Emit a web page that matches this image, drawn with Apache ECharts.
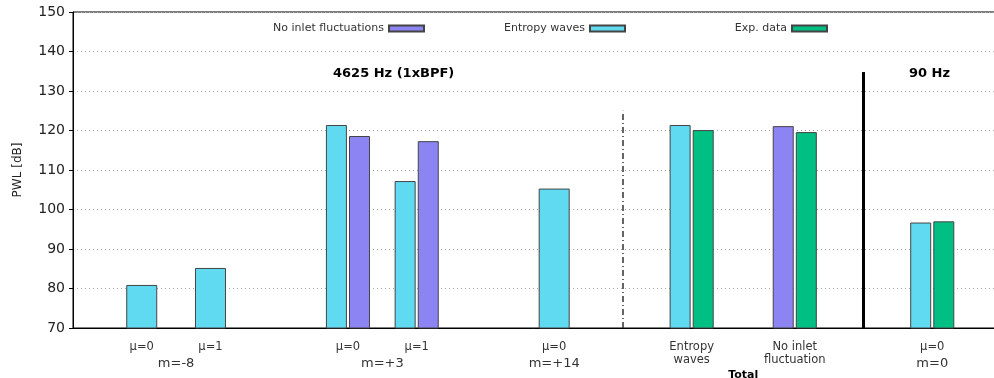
<!DOCTYPE html>
<html>
<head>
<meta charset="utf-8">
<script src="https://cdn.jsdelivr.net/npm/echarts@6/dist/echarts.min.js"></script>
<style>
  html, body { margin: 0; padding: 0; background: #fff; }
  #chart { width: 994px; height: 378px; }
</style>
</head>
<body>
<div id="chart"></div>
<script>
// bar groups, left to right
const barLabels = ['μ=0', 'μ=1', 'μ=0', 'μ=1', 'μ=0', 'Entropy\nwaves', 'No inlet\nfluctuation', 'μ=0']
const groupLabels = ['m=-8', 'm=+3', 'm=+14', 'm=0']

// values [dB]
const entropySingle = [80.9, 85.2, null, null, 105.3, null, null, null]
const entropyPair = [null, null, 121.4, 107.2, null, 121.4, null, 96.7]
const noInletRight = [null, null, 118.6, 117.3, null, null, null, null]
const noInletLeft = [null, null, null, null, null, null, 121.1, null]
const expData = [null, null, null, null, null, 120.1, 119.6, 97.0]

const yTicks = [70, 80, 90, 100, 110, 120, 130, 140, 150]

// layout: slots on the x axis (half units)
const slotCount = 55
const barSlots = [4, 8, 16, 20, 28, 36, 42, 50]
const groupSlots = [6, 18, 28, 50]
const totalSlot = 39

const FONT = 'DejaVu Sans'
const CYAN = '#5fdaf1'
const PURPLE = '#8b84f2'
const GREEN = '#00bf82'
const EDGE = '#444'

function spread(values, slots, empty) {
  const out = new Array(slotCount).fill(empty)
  values.forEach((v, i) => { out[slots[i]] = v })
  return out
}

const slotLabels = spread(barLabels, barSlots, '')
const slotGroups = spread(groupLabels, groupSlots, '')
const slotTotal = new Array(slotCount).fill('')
slotTotal[totalSlot] = 'Total'

const chart = echarts.init(document.getElementById('chart'))

const hiddenX = () => ({
  type: 'category', gridIndex: 0, position: 'bottom', boundaryGap: false,
  data: slotLabels, show: false
})

const barStyle = (color) => ({color: color, borderColor: EDGE, borderWidth: 1})

const legendBox = (name, right) => ({
  data: [name], right: right, top: 18, align: 'right', icon: 'rect',
  itemWidth: 35, itemHeight: 6,
  textStyle: {fontFamily: FONT, fontSize: 11, color: '#333'}
})

const option = {
  animation: false,
  textStyle: {fontFamily: FONT},
  grid: {
    left: 73, top: 12, width: 928, height: 316, outerBoundsMode: 'none',
    show: true, borderColor: '#000', borderWidth: 1
  },
  legend: [
    legendBox('No inlet fluctuations', 564),
    legendBox('Entropy waves', 363),
    legendBox('Exp. data', 161)
  ],
  xAxis: [
    {
      type: 'category', position: 'bottom', boundaryGap: false, data: slotLabels,
      axisLine: {onZero: false, lineStyle: {color: '#000'}},
      axisTick: {show: false},
      axisLabel: {interval: 0, margin: 13, fontSize: 11.5, lineHeight: 13, color: '#333', fontFamily: FONT}
    },
    hiddenX(),
    hiddenX(),
    {
      type: 'category', position: 'bottom', boundaryGap: false, data: slotGroups,
      axisLine: {show: false}, axisTick: {show: false},
      axisLabel: {interval: 0, margin: 29, fontSize: 13, color: '#333', fontFamily: FONT}
    },
    {
      type: 'category', position: 'bottom', boundaryGap: false, data: slotTotal,
      axisLine: {show: false}, axisTick: {show: false},
      axisLabel: {interval: 0, margin: 42, fontSize: 11, fontWeight: 'bold', color: '#000', fontFamily: FONT}
    }
  ],
  yAxis: {
    type: 'value', min: yTicks[0], max: yTicks[yTicks.length - 1], interval: 10,
    name: 'PWL [dB]', nameLocation: 'middle', nameGap: 49,
    nameTextStyle: {fontSize: 12, color: '#222', fontFamily: FONT},
    axisLine: {show: true, lineStyle: {color: '#000'}},
    axisTick: {show: true, length: 4, lineStyle: {color: '#000'}},
    axisLabel: {fontSize: 14, color: '#222', margin: 8, fontFamily: FONT},
    splitLine: {lineStyle: {type: [1, 3], color: '#aaa'}}
  },
  series: [
    {
      name: 'Entropy waves', type: 'bar', xAxisIndex: 1, barWidth: 31,
      itemStyle: barStyle(CYAN), data: spread(entropySingle, barSlots, null),
      markLine: {
        silent: true, symbol: 'none', label: {show: false},
        data: [
          [{coord: [32, 70], lineStyle: {type: [6, 3, 1, 3], color: '#333', width: 1.5}}, {coord: [32, 125]}],
          [{coord: [46, 70], lineStyle: {type: 'solid', color: '#000', width: 3}}, {coord: [46, 134.8]}]
        ]
      }
    },
    {
      name: 'Entropy waves', type: 'bar', xAxisIndex: 0, barWidth: 21, barGap: '10%',
      itemStyle: barStyle(CYAN), data: spread(entropyPair, barSlots, null)
    },
    {
      name: 'No inlet fluctuations', type: 'bar', xAxisIndex: 0, barWidth: 21, barGap: '10%',
      itemStyle: barStyle(PURPLE), data: spread(noInletRight, barSlots, null)
    },
    {
      name: 'No inlet fluctuations', type: 'bar', xAxisIndex: 2, barWidth: 21, barGap: '10%',
      itemStyle: barStyle(PURPLE), data: spread(noInletLeft, barSlots, null)
    },
    {
      name: 'Exp. data', type: 'bar', xAxisIndex: 2, barWidth: 21, barGap: '10%',
      itemStyle: barStyle(GREEN), data: spread(expData, barSlots, null)
    }
  ],
  graphic: [
    {type: 'text', left: 333, top: 67, style: {text: '4625 Hz (1xBPF)', font: 'bold 13px ' + FONT, fill: '#000'}},
    {type: 'text', left: 909, top: 67, style: {text: '90 Hz', font: 'bold 13px ' + FONT, fill: '#000'}}
  ]
}

chart.setOption(option)
</script>
</body>
</html>
